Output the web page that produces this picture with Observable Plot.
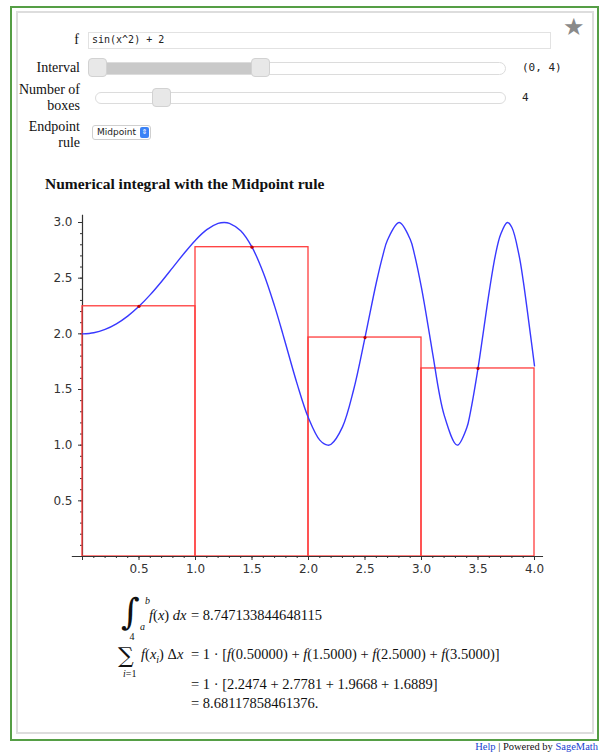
<!DOCTYPE html>
<html><head><meta charset="utf-8">
<script src="https://cdn.jsdelivr.net/npm/d3@7"></script>
<script src="https://cdn.jsdelivr.net/npm/@observablehq/plot@0.6"></script>
<style>
body{margin:0;background:#fff;}
#page{position:relative;width:602px;height:754px;overflow:hidden;font-family:"Liberation Serif",serif;color:#111;}
.abs{position:absolute;}
#outer{left:10px;top:6px;width:585px;height:731px;border:2px solid #559e45;}
#inner{left:16px;top:11px;width:574px;height:719px;border:2px solid #dddddd;}
.lbl{left:0;width:80px;text-align:right;font-size:14px;line-height:16px;}
.mono{font-family:"DejaVu Sans Mono",monospace;}
.track{border:1px solid #dcdcdc;border-radius:7px;background:#fff;box-sizing:border-box;}
.handle{width:19px;height:19px;border:1px solid #d2d2d2;border-radius:4px;background:#e8e8e8;box-sizing:border-box;}
.eq{font-family:"Liberation Serif",serif;font-size:14.5px;white-space:nowrap;line-height:18px;}
.lim{font-family:"Liberation Serif",serif;font-size:10px;line-height:normal;white-space:nowrap;}
.it{font-style:italic;}
</style></head>
<body>
<div id="page">
  <div id="outer" class="abs"></div>
  <div id="inner" class="abs"></div>
  <div class="abs" style="left:563px;top:13px;font-size:24px;color:#8a8a8a;font-family:'DejaVu Sans',sans-serif;">★</div>

  <div class="abs lbl" style="top:32px;width:79px;">f</div>
  <div class="abs" style="left:88px;top:32px;width:463px;height:17px;border:1px solid #e2e2e2;box-sizing:border-box;"></div>
  <div class="abs mono" style="left:92px;top:34px;font-size:10px;line-height:12px;color:#222;">sin(x^2) + 2</div>

  <div class="abs lbl" style="top:60px;">Interval</div>
  <div class="abs track" style="left:88px;top:62px;width:418px;height:13px;"></div>
  <div class="abs" style="left:92px;top:63px;width:168px;height:11px;background:#c9c9c9;"></div>
  <div class="abs handle" style="left:88px;top:58px;"></div>
  <div class="abs handle" style="left:251px;top:58px;"></div>
  <div class="abs mono" style="left:522px;top:61px;font-size:11px;line-height:14px;color:#222;">(0, 4)</div>

  <div class="abs lbl" style="top:82px;">Number of</div>
  <div class="abs lbl" style="top:98px;">boxes</div>
  <div class="abs track" style="left:95px;top:92px;width:411px;height:12px;"></div>
  <div class="abs handle" style="left:152px;top:88px;"></div>
  <div class="abs mono" style="left:522px;top:91px;font-size:11px;line-height:14px;color:#222;">4</div>

  <div class="abs lbl" style="top:119px;">Endpoint</div>
  <div class="abs lbl" style="top:135px;">rule</div>
  <div class="abs" style="left:92px;top:125px;width:59px;height:15px;border:1px solid #cfcfcf;border-radius:3px;box-sizing:border-box;background:#fff;"></div>
  <div class="abs" style="left:97px;top:126px;font-family:'DejaVu Sans',sans-serif;font-size:9px;line-height:12px;color:#222;">Midpoint</div>
  <div class="abs" style="left:140px;top:127px;width:9px;height:11px;border-radius:2px;background:#3b82f6;color:#fff;font-size:7px;line-height:11px;text-align:center;font-family:'DejaVu Sans',sans-serif;">⇕</div>

  <div class="abs" style="left:45px;top:174px;font-size:15.5px;font-weight:bold;line-height:20px;">Numerical integral with the Midpoint rule</div>

  <div id="chart" class="abs" style="left:0;top:200px;"></div>

  <!-- equations -->
  <div class="abs" style="left:121px;top:591px;font-family:'DejaVu Serif',serif;font-size:36px;line-height:normal;font-style:italic;">∫</div>
  <div class="abs lim it" style="left:145px;top:595px;">b</div>
  <div class="abs lim it" style="left:140px;top:621px;">a</div>
  <div class="abs eq" style="left:149px;top:606px;"><span class="it">f</span>(<span class="it">x</span>) <span class="it">dx</span></div>
  <div class="abs eq" style="left:191px;top:606px;">= 8.747133844648115</div>

  <div class="abs" style="left:118px;top:643px;font-family:'DejaVu Serif',serif;font-size:22px;line-height:normal;">∑</div>
  <div class="abs lim" style="left:129.5px;top:631px;">4</div>
  <div class="abs lim" style="left:123px;top:668px;"><span class="it">i</span>=1</div>
  <div class="abs eq" style="left:141px;top:645px;"><span class="it">f</span>(<span class="it">x<sub style="font-size:10px">i</sub></span>) Δ<span class="it">x</span></div>
  <div class="abs eq" style="left:191px;top:645px;">= 1 · [<span class="it">f</span>(0.50000) + <span class="it">f</span>(1.5000) + <span class="it">f</span>(2.5000) + <span class="it">f</span>(3.5000)]</div>
  <div class="abs eq" style="left:191px;top:675px;">= 1 · [2.2474 + 2.7781 + 1.9668 + 1.6889]</div>
  <div class="abs eq" style="left:191px;top:694px;">= 8.68117858461376.</div>

  <div class="abs" style="right:4px;top:741px;font-size:10.5px;line-height:12px;"><span style="color:#1a3fd0;">Help</span> | Powered by <span style="color:#1a3fd0;">SageMath</span></div>
</div>
<script>
// curve samples of f(x)
const curveX = [0, 0.1, 0.2, 0.3, 0.4, 0.5, 0.6, 0.7, 0.8, 0.9, 1.0, 1.1, 1.2, 1.2533, 1.3, 1.4, 1.5, 1.6, 1.7, 1.7725, 1.8, 1.9, 2.0, 2.1, 2.1708, 2.2, 2.3, 2.4, 2.5, 2.6, 2.6587, 2.7, 2.8025, 2.9, 2.9393, 3.0, 3.07, 3.1, 3.2, 3.316, 3.4, 3.4323, 3.5, 3.5449, 3.6, 3.654, 3.7, 3.7599, 3.8, 3.863, 3.9, 3.9633, 4.0];
const curveY = [2.0, 2.01, 2.04, 2.0899, 2.1593, 2.2474, 2.3523, 2.4706, 2.5972, 2.7243, 2.8415, 2.9356, 2.9915, 3.0, 2.9929, 2.9249, 2.7781, 2.5487, 2.2489, 2.0, 1.9018, 1.5485, 1.2432, 1.0452, 1.0, 1.0082, 1.1619, 1.5003, 1.9668, 2.4590, 2.7071, 2.8453, 3.0, 2.8494, 2.7071, 2.4121, 2.0, 1.8159, 1.2721, 1.0, 1.1549, 1.2929, 1.6889, 2.0, 2.3836, 2.7071, 2.8926, 3.0, 2.9547, 2.7071, 2.4777, 2.0, 1.7121];
// midpoint boxes
const boxLeft = [0, 1, 2, 3];
const boxRight = [1, 2, 3, 4];
const boxMid = [0.5, 1.5, 2.5, 3.5];
const boxHeight = [2.2474, 2.7781, 1.9668, 1.6889];
// ticks
const xTicks = [0.5, 1.0, 1.5, 2.0, 2.5, 3.0, 3.5, 4.0];
const yTicks = [0.5, 1.0, 1.5, 2.0, 2.5, 3.0];
const xMinor = d3.range(0, 41).map(i => i / 10);
const yMinor = d3.range(1, 31).map(i => i / 10);

const curve = curveX.map((x, i) => ({x, y: curveY[i]}));
const boxes = boxLeft.map((l, i) => ({l, r: boxRight[i], m: boxMid[i], h: boxHeight[i]}));
const fmt = d => d.toFixed(1);
const axisColor = "#333";

const chart = Plot.plot({
  width: 602,
  height: 380,
  marginLeft: 82,
  marginRight: 68,
  marginTop: 22,
  marginBottom: 24,
  x: {domain: [0, 4]},
  y: {domain: [0, 3]},
  style: {fontFamily: "'DejaVu Sans', sans-serif", fontSize: "12px", background: "transparent", overflow: "visible"},
  marks: [
    Plot.ruleX([0], {y1: 0, y2: 3.065, stroke: axisColor, strokeWidth: 1.2}),
    Plot.axisY(yMinor, {anchor: "left", tickSize: 2, tickFormat: () => "", stroke: axisColor, label: null}),
    Plot.axisY(yTicks, {anchor: "left", tickSize: 4, tickPadding: 6, tickFormat: fmt, stroke: axisColor, fill: axisColor, label: null}),
    Plot.rect(boxes, {x1: "l", x2: "r", y1: 0, y2: "h", fill: "none", stroke: "#ff3c3c", strokeWidth: 1.3}),
    Plot.line(curve, {x: "x", y: "y", curve: "catmull-rom", stroke: "#3838ff", strokeWidth: 1.4}),
    Plot.dot(boxes, {x: "m", y: "h", r: 1.6, fill: "#c00000", stroke: "none"}),
    Plot.ruleY([0], {x1: -0.09, x2: 4.08, stroke: axisColor, strokeWidth: 1.2}),
    Plot.axisX(xMinor, {anchor: "bottom", tickSize: 2, tickFormat: () => "", stroke: axisColor, label: null}),
    Plot.axisX([0, ...xTicks], {anchor: "bottom", tickSize: 4, tickPadding: 4, tickFormat: d => d === 0 ? "" : fmt(d), stroke: axisColor, fill: axisColor, label: null})
  ]
});
document.getElementById("chart").appendChild(chart);
</script>
</body></html>
